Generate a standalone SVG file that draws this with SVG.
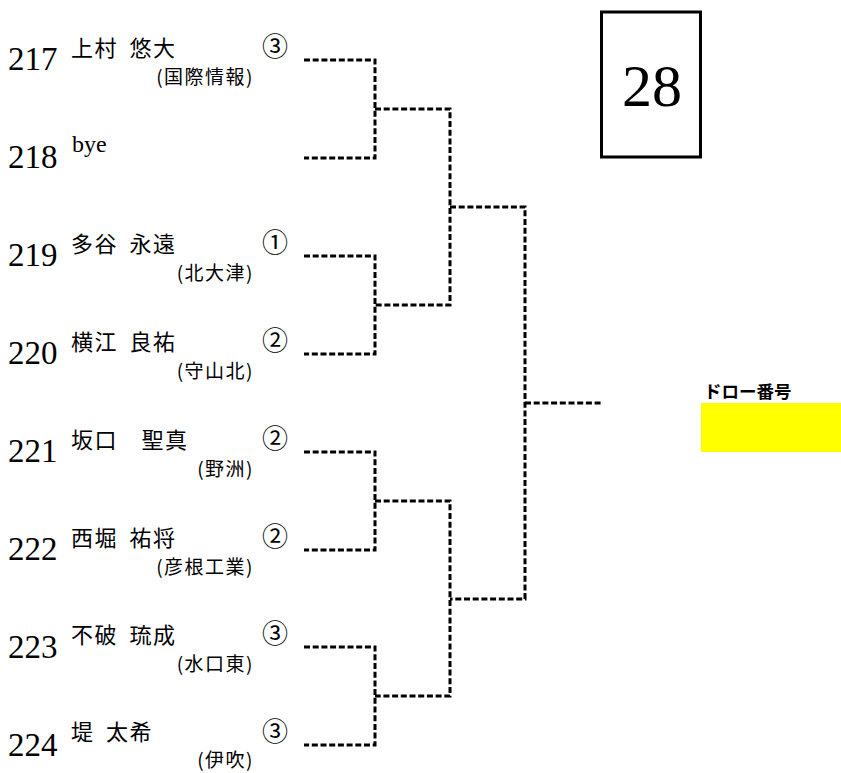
<svg xmlns="http://www.w3.org/2000/svg" width="841" height="773" viewBox="0 0 841 773">
<style>
.num{font-family:"Liberation Serif","DejaVu Serif",serif;font-size:33px;fill:#000}
.nm{font-family:"Noto Sans CJK JP","Noto Sans",sans-serif;font-size:22px;letter-spacing:1.5px;word-spacing:5px;fill:#000}
.af{font-family:"Noto Sans CJK JP","Noto Sans",sans-serif;font-size:19px;fill:#000;text-anchor:end;letter-spacing:1.5px}
.sd{font-family:"Noto Sans CJK JP","DejaVu Sans",sans-serif;font-size:26px;fill:#000}
.bye{font-family:"Liberation Serif",serif;font-size:24px;fill:#000}
.ln{fill:none;stroke:#000;stroke-width:3;stroke-dasharray:6 2.7}
</style>
<rect width="841" height="773" fill="#fff"/>
<g id="p217"><text class="num" x="8" y="70">217</text><text class="nm" x="71" y="56">上村 悠大</text><text class="af" x="254" y="84">(国際情報)</text><text class="sd" x="262" y="56">③</text></g>
<g id="p218"><text class="num" x="8" y="168">218</text><text class="bye" x="72" y="152">bye</text></g>
<g id="p219"><text class="num" x="8" y="266">219</text><text class="nm" x="71" y="252">多谷 永遠</text><text class="af" x="254" y="280">(北大津)</text><text class="sd" x="262" y="252">①</text></g>
<g id="p220"><text class="num" x="8" y="364">220</text><text class="nm" x="71" y="350">横江 良祐</text><text class="af" x="254" y="378">(守山北)</text><text class="sd" x="262" y="350">②</text></g>
<g id="p221"><text class="num" x="8" y="462">221</text><text class="nm" x="71" y="448" xml:space="preserve">坂口　聖真</text><text class="af" x="254" y="476">(野洲)</text><text class="sd" x="262" y="448">②</text></g>
<g id="p222"><text class="num" x="8" y="560">222</text><text class="nm" x="71" y="546">西堀 祐将</text><text class="af" x="254" y="574">(彦根工業)</text><text class="sd" x="262" y="546">②</text></g>
<g id="p223"><text class="num" x="8" y="658">223</text><text class="nm" x="71" y="643">不破 琉成</text><text class="af" x="254" y="671">(水口東)</text><text class="sd" x="262" y="643">③</text></g>
<g id="p224"><text class="num" x="8" y="756">224</text><text class="nm" x="71" y="740">堤 太希</text><text class="af" x="254" y="767">(伊吹)</text><text class="sd" x="262" y="741">③</text></g>
<g id="connectors">
<path class="ln" d="M304 60H375V158H304"/>
<path class="ln" d="M304 256H375V354H304"/>
<path class="ln" d="M304 452H375V550H304"/>
<path class="ln" d="M304 647H375V745H304"/>
<path class="ln" d="M375 109H450V305H375"/>
<path class="ln" d="M375 501H450V696H375"/>
<path class="ln" d="M450 207H525V599H450"/>
<path class="ln" d="M525 403H602"/>
</g>
<g id="box28"><rect x="601.5" y="12" width="99" height="145" fill="none" stroke="#000" stroke-width="3"/><text x="652" y="106" text-anchor="middle" font-family="Liberation Serif,serif" font-size="60">28</text></g>
<g id="draw"><text x="704" y="398" font-family="Noto Sans CJK JP,sans-serif" font-weight="bold" font-size="17.5">ドロー番号</text><rect x="701" y="403" width="140" height="49" fill="#ffff00"/></g>
</svg>
